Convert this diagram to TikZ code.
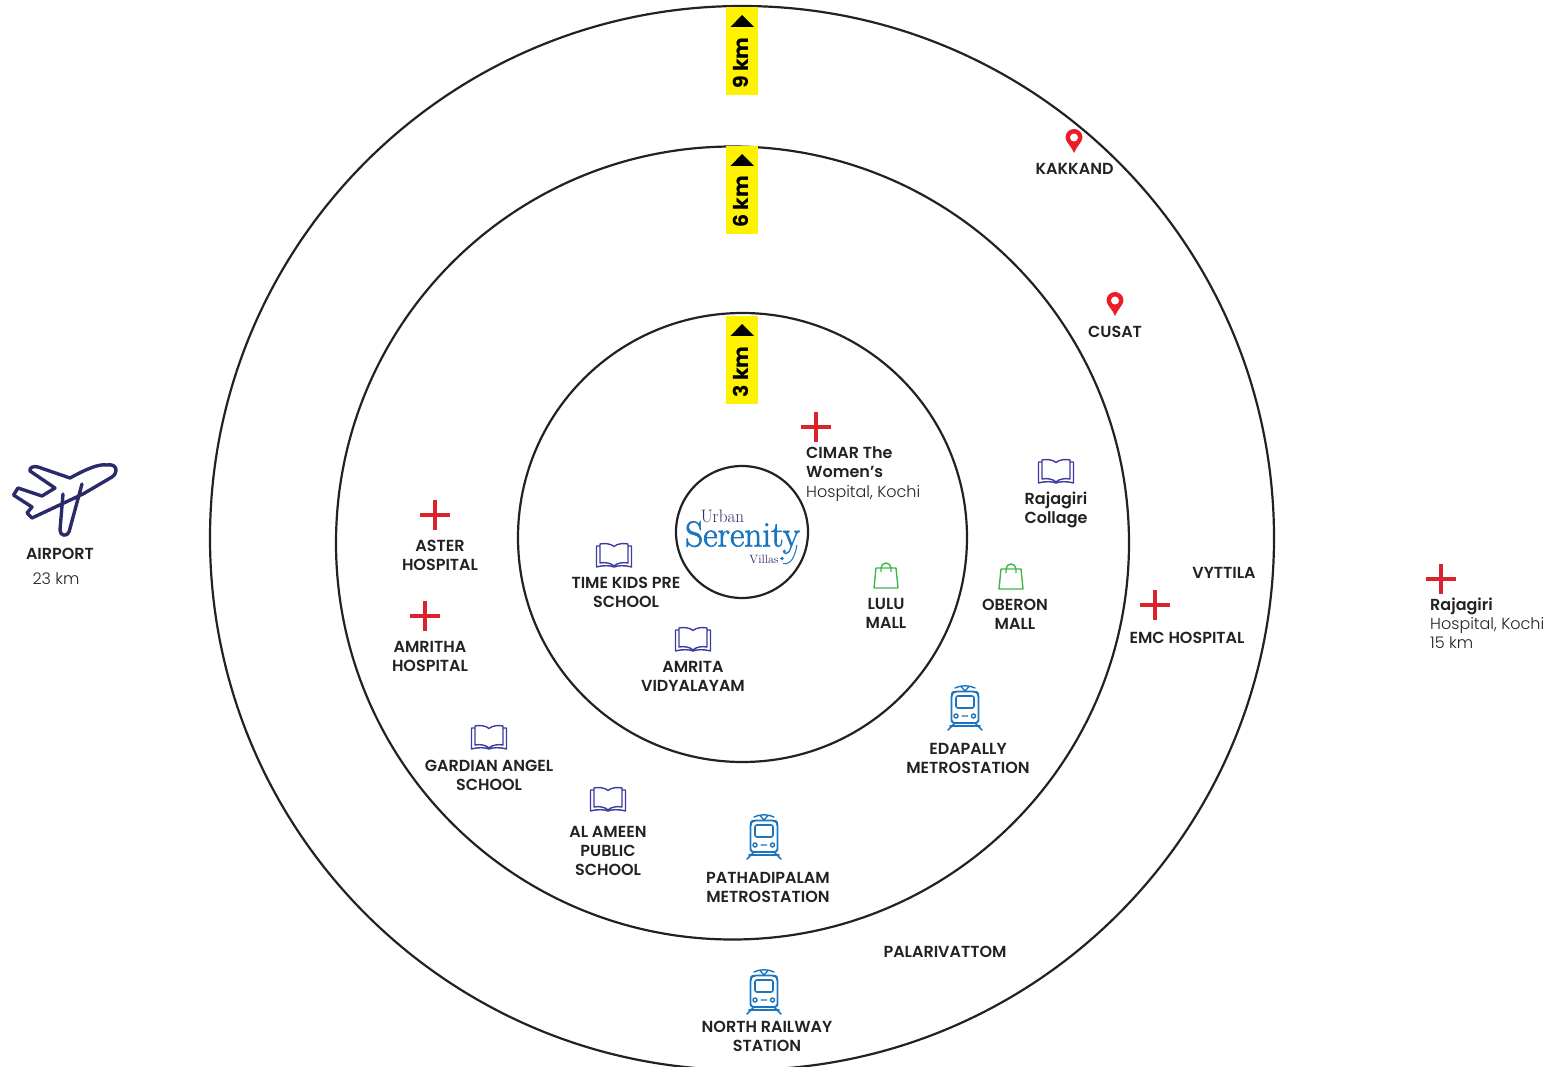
\documentclass[tikz,border=0pt]{standalone}
\usepackage{fontspec}
\newfontfamily\popl{Poppins Light}
\newfontfamily\pops{Poppins SemiBold}
\newfontfamily\popb{Poppins Bold}
\newfontfamily\lgf[FakeBold=1.8]{Latin Modern Roman}
\definecolor{ink}{HTML}{222222}
\definecolor{navy}{HTML}{2B2A6B}
\definecolor{bookc}{HTML}{3D3C9C}
\definecolor{crossc}{HTML}{D9232D}
\definecolor{pinc}{HTML}{ED1C24}
\definecolor{bagc}{HTML}{3DB54A}
\definecolor{trainc}{HTML}{1C75BC}
\definecolor{tagc}{HTML}{FFF200}
\tikzset{
  ring/.style={draw=ink,line width=2.2pt,circle,inner sep=0pt,fill=none},
  lbl/.style={inner sep=0pt,align=center,text=ink,font=\pops\fontsize{16}{19}\selectfont},
  lft/.style={inner sep=0pt,align=left,text=ink,font=\pops\fontsize{16}{19}\selectfont},
  lite/.style={inner sep=0pt,align=left,text=ink,font=\popl\fontsize{16}{19}\selectfont},
  tag/.style={fill=tagc,minimum width=32pt,minimum height=88pt,inner sep=0pt},
  tagtext/.style={rotate=90,inner sep=0pt,text=black,font=\popb\fontsize{20.5}{21}\selectfont},
  cross/.pic={\draw[crossc,line width=3.4pt] (-15,0)--(15,0) (0,-15)--(0,15);},
  pin/.pic={
    \fill[pinc] (0,12) .. controls (-2,6) and (-8.5,1) .. (-8.5,-3.5) arc[start angle=180,end angle=360,radius=8.5] .. controls (8.5,1) and (2,6) .. (0,12) -- cycle;
    \fill[white] (0,-3.5) circle[radius=4];},
  bag/.pic={
    \draw[bagc,line width=1.4pt,line join=round] (-10,-8)--(10,-8)--(12,12)--(-12,12)--cycle;
    \draw[bagc,line width=1.4pt] (-5,-4)--(-5,-8) arc[start angle=180,end angle=360,radius=5] --(5,-4);},
  book/.pic={
    \draw[bookc,line width=1.4pt,line join=round]
      (0,-8.5) .. controls (-3,-11.5) and (-10,-12) .. (-14,-11) -- (-14,8) .. controls (-9,7) and (-3,8) .. (0,11)
      .. controls (3,8) and (9,7) .. (14,8) -- (14,-11) .. controls (10,-12) and (3,-11.5) .. (0,-8.5) -- cycle
      (-14,-9) -- (-17.5,-9) -- (-17.5,12) .. controls (-10,10) and (-4,10.5) .. (0,12)
      .. controls (4,10.5) and (10,10) .. (17.5,12) -- (17.5,-9) -- (14,-9);},
  train/.pic={
    \draw[trainc,line width=1.9pt,line join=round,rounded corners=3pt]
      (-13.5,-14) -- (-11,-16.5) -- (11,-16.5) -- (13.5,-14) -- (13.5,15) -- (-13.5,15) -- cycle;
    \draw[trainc,line width=1.6pt,rounded corners=2pt] (-9,-12) rectangle (9,0);
    \draw[trainc,line width=1.4pt] (-9,8) circle[radius=2] (8.5,8) circle[radius=2] (-3.5,8)--(3,8);
    \draw[trainc,line width=1.6pt,line cap=round] (-10,15)--(-17,22) (10,15)--(17,22) (-15,18)--(15,18);
    \draw[trainc,line width=1.4pt,line cap=round] (-10,-20) .. controls (-4,-23) and (4,-23) .. (10,-20) (-4,-21.5)--(0,-17)--(4,-21.5);},
}
\begin{document}
\begin{tikzpicture}[x=1pt,y=-1pt]
\useasboundingbox (0,0) rectangle (1553,1067);
\clip (0,0) rectangle (1553,1067);
% rings
\node[ring,minimum size=1064pt] (outer) at (742,538) {};
\node[ring,minimum size=793pt] (middle) at (732.5,543) {};
\node[ring,minimum size=449pt] (inner) at (742.5,537.5) {};
\node[ring,minimum size=132pt] (core) at (742,532) {};
% logo
\node[inner sep=0pt,text=navy,xscale=.95,font=\fontsize{18}{18}\selectfont] (logoa) at (722.5,516.5) {Urban};
\node[inner sep=0pt,text=trainc,xscale=.98,font=\lgf\fontsize{36}{36}\selectfont] (logob) at (742.5,537.5) {Serenity};
\node[inner sep=0pt,text=navy,font=\fontsize{12}{12}\selectfont] (logoc) at (764,559.5) {Villas};
\fill[trainc] (782,558.5) circle[radius=1.8];
\draw[trainc,line width=1pt] (797,545) .. controls (795,555) and (792,565) .. (783,563.5);
% distance tags
\foreach \n/\y/\t in {a/51/9 km,b/190/6 km,c/360/3 km}{
  \node[tag] (tag\n) at (742,\y) {};
  \fill[black] (730.5,\y-24) -- (742,\y-36) -- (754,\y-24) -- cycle;
  \node[tagtext] (tagtext\n) at (740.5,\y+12) {\t};
}
% icons
\foreach \x/\y in {816/427,435/515,425/616,1155/605,1441/579}{\pic at (\x,\y) {cross};}
\foreach \x/\y in {1074/141,1115/304}{\pic at (\x,\y) {pin};}
\foreach \x/\y in {886/576,1011/577}{\pic at (\x,\y) {bag};}
\foreach \x/\y in {614/555,693/639,489/737,608/799,1056/471}{\pic at (\x,\y) {book};}
\foreach \x/\y in {965/708,764/837,764/992}{\pic at (\x,\y) {train};}
% plane
\draw[navy,line width=3.4pt,line join=round,line cap=round]
  (106.5,465) .. controls (100,464) and (90,467) .. (70,478) -- (38,467) .. controls (33,465.5) and (29,468) .. (30,471) -- (55,488)
  -- (42,496) -- (18,488) -- (13.5,495) -- (32,507) -- (27,513) -- (32,518) -- (83,494) -- (112,477)
  .. controls (118,473) and (118,463) .. (106.5,465) -- cycle
  (63,494) -- (60,530) .. controls (60,536) and (67,537) .. (69,532) -- (82,484);
% labels
\node[lbl] (airport) at (60,554) {AIRPORT};
\node[lite] (airkm) at (56,579) {23 km};
\node[lbl] (aster) at (440,555.5) {ASTER\\HOSPITAL};
\node[lbl] (amritha) at (430,656) {AMRITHA\\HOSPITAL};
\node[lbl] (timekids) at (626,592.5) {TIME KIDS PRE\\SCHOOL};
\node[lbl] (amrita) at (693,676) {AMRITA\\VIDYALAYAM};
\node[lbl] (lulu) at (886,613.5) {LULU\\MALL};
\node[lbl] (oberon) at (1015,614.5) {OBERON\\MALL};
\node[lbl] (rajcol) at (1056,510) {Rajagiri\\Collage};
\node[lbl] (edapally) at (968,758) {EDAPALLY\\METROSTATION};
\node[lbl] (gardian) at (489,775) {GARDIAN ANGEL\\SCHOOL};
\node[lbl] (alameen) at (608,850.5) {AL AMEEN\\PUBLIC\\SCHOOL};
\node[lbl] (pathad) at (768,887) {PATHADIPALAM\\METROSTATION};
\node[lbl] (north) at (767,1036) {NORTH RAILWAY\\STATION};
\node[lbl] (palari) at (945,951.5) {PALARIVATTOM};
\node[lbl] (vyttila) at (1224,572.5) {VYTTILA};
\node[lbl] (emc) at (1187,637.5) {EMC HOSPITAL};
\node[lbl] (kakkand) at (1074.5,168.5) {KAKKAND};
\node[lbl] (cusat) at (1115,331.5) {CUSAT};
\node[lft,anchor=west] (cimar) at (806,462) {CIMAR The\\Women’s};
\node[lite,anchor=west] (cimarb) at (806,493.5) {Hospital, Kochi};
\node[lft,anchor=west] (rajh) at (1430,606) {Rajagiri};
\node[lite,anchor=west] (rajhb) at (1430,633) {Hospital, Kochi\\15 km};
\end{tikzpicture}
\end{document}
